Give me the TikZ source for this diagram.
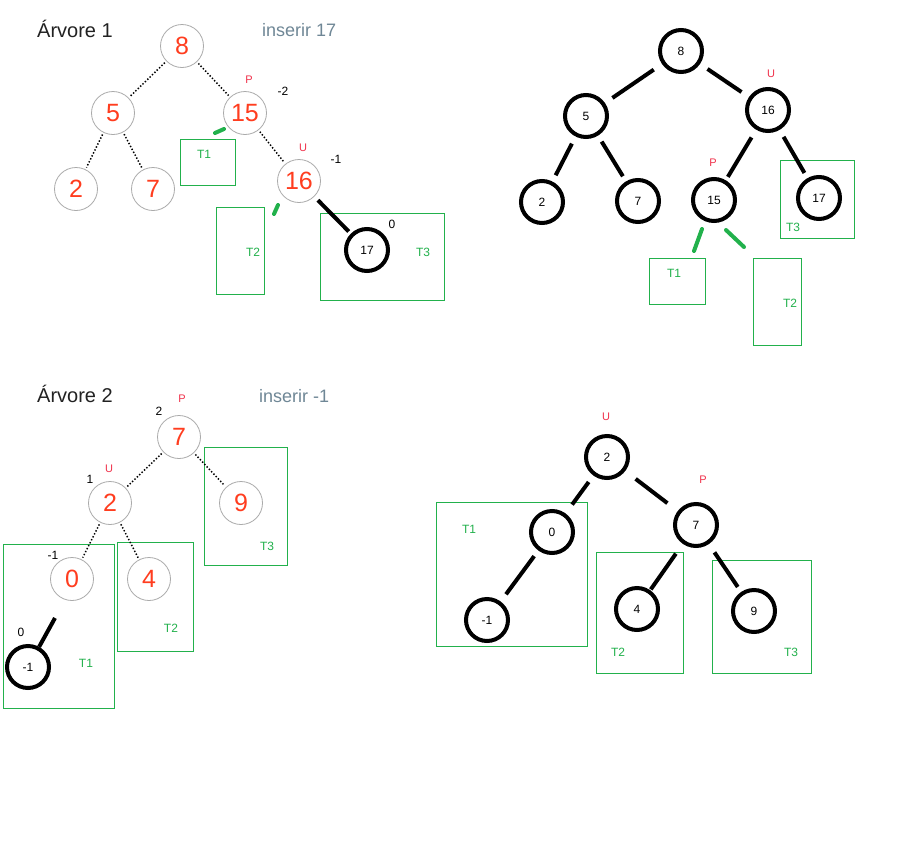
\documentclass[tikz,border=0pt]{standalone}
\usepackage{fontspec}
\setmainfont{Liberation Sans}
\definecolor{numred}{HTML}{FF3D1F}
\definecolor{pured}{HTML}{F0304A}
\definecolor{pgreen}{HTML}{22B14C}
\definecolor{cgray}{HTML}{AAAAAA}
\definecolor{titlegray}{HTML}{222222}
\definecolor{insgray}{HTML}{6F8796}
\tikzset{
  gnode/.style={circle, draw=cgray, line width=0.8pt, minimum size=43pt, inner sep=0pt, text=numred, font=\fontsize{25}{25}\selectfont},
  bnode/.style={circle, draw=black, line width=4pt, minimum size=42pt, inner sep=0pt, font=\fontsize{12}{12}\selectfont},
  dotedge/.style={line width=1.5pt, dash pattern=on 1.4pt off 1.9pt, shorten >=2pt, shorten <=2pt},
  bedge/.style={line width=4pt},
  gmark/.style={draw=pgreen, line width=4pt, line cap=round},
  tbox/.style={draw=pgreen, line width=1pt},
  tlab/.style={text=pgreen, font=\fontsize{12}{12}\selectfont, inner sep=0pt},
  pulab/.style={text=pured, font=\fontsize{11}{11}\selectfont, inner sep=0pt},
  bal/.style={font=\fontsize{12}{12}\selectfont, inner sep=0pt},
  ttl/.style={text=titlegray, font=\fontsize{20}{20}\selectfont, anchor=base west, inner sep=0pt},
  ins/.style={text=insgray, font=\fontsize{18}{18}\selectfont, anchor=base west, inner sep=0pt}
}
\begin{document}
\begin{tikzpicture}[x=1pt,y=-1pt]
\fill[white] (0,0) rectangle (908,852);
\useasboundingbox (0,0) rectangle (908,852);

% ===== Arvore 1 =====
\node[ttl] (t1) at (37,37) {Árvore 1};
\node[ins] (i1) at (262,36) {inserir 17};
\draw[tbox] (180,139) rectangle (235,185);
\draw[tbox] (216,207) rectangle (264,294);
\draw[tbox] (320,213) rectangle (444,300);
\node[tlab] (a1t1) at (204,154) {T1};
\node[tlab] (a1t2) at (253,252) {T2};
\node[tlab] (a1t3) at (423,252) {T3};
\node[gnode] (a8) at (182,46) {8};
\node[gnode] (a5) at (113,113) {5};
\node[gnode] (a15) at (245,113) {15};
\node[gnode] (a2) at (76,189) {2};
\node[gnode] (a7) at (153,189) {7};
\node[gnode] (a16) at (299,181) {16};
\node[bnode] (a17) at (367,250) {17};
\draw[dotedge] (a8) -- (a5);
\draw[dotedge] (a8) -- (a15);
\draw[dotedge] (a5) -- (a2);
\draw[dotedge] (a5) -- (a7);
\draw[dotedge] (a15) -- (a16);
\draw[bedge, shorten >=3pt, shorten <=5pt] (a16) -- (a17);
\coordinate (g1a) at (215,133); \coordinate (g1b) at (224,129);
\draw[gmark] (g1a) -- (g1b);
\coordinate (g2a) at (278,205); \coordinate (g2b) at (274,214);
\draw[gmark] (g2a) -- (g2b);
\node[pulab] (a1p) at (249,80) {P};
\node[bal] (a1b15) at (283,91) {-2};
\node[pulab] (a1u) at (303,148) {U};
\node[bal] (a1b16) at (336,159) {-1};
\node[bal] (a1b17) at (392,224) {0};

% ===== Arvore 1 result =====
\draw[tbox] (649,258) rectangle (705,304);
\draw[tbox] (753,258) rectangle (801,345);
\draw[tbox] (780,160) rectangle (854,238);
\node[tlab] (b1t1) at (674,273) {T1};
\node[tlab] (b1t2) at (790,303) {T2};
\node[tlab] (b1t3) at (793,227) {T3};
\node[bnode] (b8) at (681,51) {8};
\node[bnode] (b5) at (586,116) {5};
\node[bnode] (b16) at (768,110) {16};
\node[bnode] (b2) at (542,202) {2};
\node[bnode] (b7) at (638,201) {7};
\node[bnode] (b15) at (714,200) {15};
\node[bnode] (b17) at (819,198) {17};
\draw[bedge, shorten >=9pt, shorten <=10pt] (b8) -- (b5);
\draw[bedge, shorten >=9pt, shorten <=9pt] (b8) -- (b16);
\draw[bedge, shorten >=7pt, shorten <=8pt] (b5) -- (b2);
\draw[bedge, shorten >=6pt, shorten <=7pt] (b5) -- (b7);
\draw[bedge, shorten >=4pt, shorten <=9pt] (b16) -- (b15);
\draw[bedge, shorten >=6pt, shorten <=8pt] (b16) -- (b17);
\coordinate (g3a) at (702,229); \coordinate (g3b) at (694,251);
\draw[gmark] (g3a) -- (g3b);
\coordinate (g4a) at (726,230); \coordinate (g4b) at (744,247);
\draw[gmark] (g4a) -- (g4b);
\node[pulab] (b1u) at (771,74) {U};
\node[pulab] (b1p) at (713,163) {P};

% ===== Arvore 2 =====
\node[ttl] (t2) at (37,402) {Árvore 2};
\node[ins] (i2) at (259,402) {inserir -1};
\draw[tbox] (204,447) rectangle (287,565);
\draw[tbox] (117,542) rectangle (193,651);
\draw[tbox] (3,544) rectangle (114,708);
\node[tlab] (c1t3) at (267,546) {T3};
\node[tlab] (c1t2) at (171,628) {T2};
\node[tlab] (c1t1) at (86,663) {T1};
\node[gnode] (c7) at (179,437) {7};
\node[gnode] (c2) at (110,503) {2};
\node[gnode] (c9) at (241,503) {9};
\node[gnode] (c0) at (72,579) {0};
\node[gnode] (c4) at (149,579) {4};
\node[bnode] (cm1) at (28,667) {-1};
\draw[dotedge] (c7) -- (c2);
\draw[dotedge] (c7) -- (c9);
\draw[dotedge] (c2) -- (c0);
\draw[dotedge] (c2) -- (c4);
\coordinate (cfree) at (55,618);
\draw[bedge] (cm1) -- (cfree);
\node[pulab] (c1p) at (182,399) {P};
\node[bal] (cb7) at (159,411) {2};
\node[pulab] (c1u) at (109,469) {U};
\node[bal] (cb2) at (90,479) {1};
\node[bal] (cb0) at (53,555) {-1};
\node[bal] (cbm1) at (21,632) {0};

% ===== Arvore 2 result =====
\draw[tbox] (436,502) rectangle (587,646);
\draw[tbox] (596,552) rectangle (683,673);
\draw[tbox] (712,560) rectangle (811,673);
\node[tlab] (d1t1) at (469,529) {T1};
\node[tlab] (d1t2) at (618,652) {T2};
\node[tlab] (d1t3) at (791,652) {T3};
\node[bnode] (d2) at (607,457) {2};
\node[bnode] (d7) at (696,525) {7};
\node[bnode] (d0) at (552,532) {0};
\node[bnode] (dm1) at (487,620) {-1};
\node[bnode] (d4) at (637,609) {4};
\node[bnode] (d9) at (754,611) {9};
\draw[bedge, shorten >=11pt, shorten <=8pt] (d2) -- (d0);
\draw[bedge, shorten >=13pt, shorten <=13pt] (d2) -- (d7);
\draw[bedge, shorten >=9pt, shorten <=7pt] (d0) -- (dm1);
\draw[bedge, shorten >=1pt, shorten <=12pt] (d7) -- (d4);
\draw[bedge, shorten >=6pt, shorten <=10pt] (d7) -- (d9);
\node[pulab] (d1u) at (606,417) {U};
\node[pulab] (d1p) at (703,480) {P};
\end{tikzpicture}
\end{document}
